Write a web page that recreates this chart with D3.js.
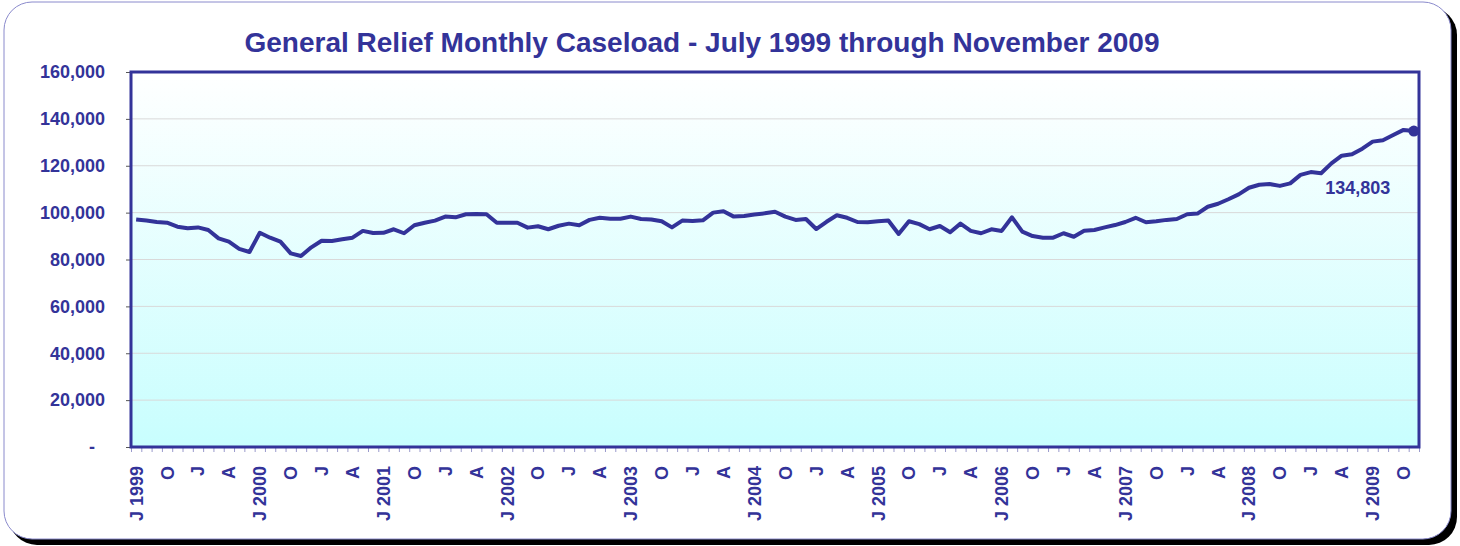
<!DOCTYPE html>
<html>
<head>
<meta charset="utf-8">
<script src="https://cdn.jsdelivr.net/npm/d3@7"></script>
<style>
  body { margin: 0; background: #fff; }
  svg text { font-family: Arial, "Liberation Sans", sans-serif; font-weight: bold; fill: #333399; }
</style>
</head>
<body>
<svg id="chart" width="1460" height="546"></svg>
<script>
// monthly caseload, July 1999 .. November 2009 (thousands)
var caseload = [
  97.1, 96.6, 96.0, 95.7, 94.0, 93.3, 93.7, 92.6, 89.0, 87.6, 84.5, 83.2,
  91.4, 89.3, 87.6, 82.6, 81.5, 85.2, 88.0, 87.9, 88.6, 89.3, 92.2, 91.3,
  91.4, 92.9, 91.2, 94.6, 95.7, 96.6, 98.3, 98.0, 99.3, 99.4, 99.3, 95.7,
  95.7, 95.7, 93.6, 94.2, 92.9, 94.4, 95.3, 94.6, 96.9, 97.8, 97.4, 97.4,
  98.3, 97.3, 97.1, 96.3, 93.7, 96.6, 96.4, 96.7, 100.0, 100.6, 98.3, 98.6,
  99.2, 99.7, 100.4, 98.3, 96.9, 97.3, 93.0, 96.1, 98.9, 97.8, 96.0, 95.9,
  96.3, 96.6, 90.9, 96.3, 95.1, 92.9, 94.3, 91.6, 95.3, 92.2, 91.2, 92.9,
  92.2, 98.0, 91.9, 90.0, 89.3, 89.3, 91.2, 89.7, 92.3, 92.6, 93.7, 94.7,
  96.0, 97.8, 95.9, 96.3, 96.9, 97.3, 99.3, 99.6, 102.5, 103.8, 105.7, 107.8,
  110.6, 111.9, 112.2, 111.4, 112.5, 116.1, 117.3, 116.8, 121.0, 124.3, 124.9, 127.3,
  130.3, 130.9, 133.1, 135.3, 134.803
];

var months = d3.timeMonth.range(new Date(1999, 6, 1), new Date(2009, 11, 1));

// quarterly labels under the axis
var tickLabels = [
  "J 1999", "O", "J", "A", "J 2000", "O", "J", "A", "J 2001", "O", "J", "A",
  "J 2002", "O", "J", "A", "J 2003", "O", "J", "A", "J 2004", "O", "J", "A",
  "J 2005", "O", "J", "A", "J 2006", "O", "J", "A", "J 2007", "O", "J", "A",
  "J 2008", "O", "J", "A", "J 2009", "O"
];

var yTicks = [0, 20000, 40000, 60000, 80000, 100000, 120000, 140000, 160000];

var title = "General Relief Monthly Caseload - July 1999 through November 2009";
var lastLabel = "134,803";

var plotL = 131, plotR = 1419, plotT = 72, plotB = 447;
var blue = "#333399";

var svg = d3.select("#chart");

// frame with drop shadow
svg.append("rect")
  .attr("x", 9).attr("y", 7).attr("width", 1448).attr("height", 538)
  .attr("rx", 28).attr("fill", "#000");
svg.append("rect")
  .attr("x", 4).attr("y", 2).attr("width", 1447).attr("height", 537)
  .attr("rx", 28).attr("fill", "#fff").attr("stroke", "#8a8acc").attr("stroke-width", 1);

var defs = svg.append("defs");
var grad = defs.append("linearGradient").attr("id", "bg")
  .attr("x1", 0).attr("y1", 0).attr("x2", 0).attr("y2", 1);
grad.append("stop").attr("offset", "0%").attr("stop-color", "#ffffff");
grad.append("stop").attr("offset", "100%").attr("stop-color", "#c8fefe");

svg.append("rect")
  .attr("x", plotL).attr("y", plotT).attr("width", plotR - plotL).attr("height", plotB - plotT)
  .attr("fill", "url(#bg)");

var x = d3.scaleBand()
  .domain(d3.range(caseload.length))
  .range([plotL, plotR]);

var xEdge = d3.scaleLinear()
  .domain([0, caseload.length])
  .range([plotL, plotR]);

var y = d3.scaleLinear()
  .domain([0, 160000])
  .range([plotB, plotT]);

// gridlines
svg.append("g")
  .selectAll("line")
  .data(yTicks.filter(d => d > 0 && d < 160000))
  .enter().append("line")
    .attr("x1", plotL).attr("x2", plotR)
    .attr("y1", d => y(d)).attr("y2", d => y(d))
    .attr("stroke", "#d9d9d9").attr("stroke-width", 1);

// y axis
var yAxis = svg.append("g")
  .attr("transform", `translate(${plotL},0)`)
  .call(d3.axisLeft(y).tickValues(yTicks).tickSize(5).tickPadding(21)
    .tickFormat(d => d === 0 ? "-" : d3.format(",")(d)));
yAxis.select(".domain").remove();
yAxis.selectAll(".tick line").attr("stroke", "#555");
yAxis.selectAll("text")
  .style("font-size", "18px")
  .attr("dx", d => d === 0 ? -10 : 0);

// category boundary ticks
var edgeAxis = svg.append("g")
  .attr("transform", `translate(0,${plotB})`)
  .call(d3.axisBottom(xEdge).tickValues(d3.range(caseload.length + 1)).tickSize(5).tickFormat(""));
edgeAxis.select(".domain").remove();
edgeAxis.selectAll(".tick line").attr("stroke", "#9a9acc");

// quarterly labels
var labelAxis = svg.append("g")
  .attr("transform", `translate(0,${plotB})`)
  .call(d3.axisBottom(x)
    .tickValues(d3.range(0, caseload.length, 3))
    .tickSize(0)
    .tickFormat((d, i) => tickLabels[i]));
labelAxis.select(".domain").remove();
labelAxis.selectAll("text")
  .style("font-size", "18px")
  .attr("text-anchor", "end")
  .attr("transform", "rotate(-90)")
  .attr("x", -19)
  .attr("y", 0)
  .attr("dy", "0.36em");

// plot border
svg.append("rect")
  .attr("x", plotL).attr("y", plotT).attr("width", plotR - plotL).attr("height", plotB - plotT)
  .attr("fill", "none").attr("stroke", blue).attr("stroke-width", 3);

// the series
var line = d3.line()
  .x((d, i) => x(i) + x.bandwidth() / 2)
  .y(d => y(d * 1000));

svg.append("path")
  .datum(caseload)
  .attr("d", line)
  .attr("fill", "none")
  .attr("stroke", blue)
  .attr("stroke-width", 4)
  .attr("stroke-linejoin", "round");

var last = caseload.length - 1;
var lx = x(last) + x.bandwidth() / 2, ly = y(caseload[last] * 1000);
svg.append("circle")
  .attr("cx", lx).attr("cy", ly).attr("r", 5.5)
  .attr("fill", blue);

svg.append("text")
  .attr("x", lx - 56).attr("y", ly + 63)
  .attr("text-anchor", "middle")
  .style("font-size", "18px")
  .text(lastLabel);

svg.append("text")
  .attr("x", 702).attr("y", 52)
  .attr("text-anchor", "middle")
  .style("font-size", "28px")
  .text(title);
</script>
</body>
</html>
